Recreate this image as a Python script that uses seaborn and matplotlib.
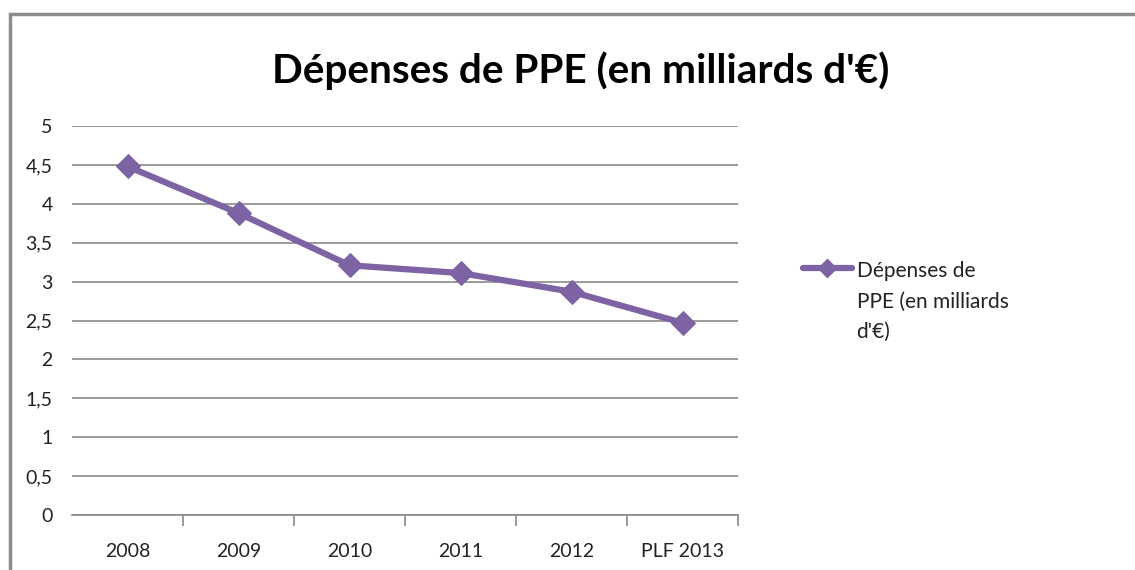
import matplotlib
matplotlib.use("Agg")
import matplotlib.pyplot as plt
import seaborn as sns
import pandas as pd
from matplotlib.ticker import FixedLocator, FuncFormatter
from matplotlib.lines import Line2D
from matplotlib.patches import Rectangle

categories = ["2008", "2009", "2010", "2011", "2012", "PLF 2013"]
values = [4.48, 3.88, 3.21, 3.11, 2.87, 2.47]
series_name = "Dépenses de PPE (en milliards d'€)"
legend_label = "Dépenses de\nPPE (en milliards\nd'€)"
yticks = [0, 0.5, 1, 1.5, 2, 2.5, 3, 3.5, 4, 4.5, 5]

df = pd.DataFrame({"year": pd.Categorical(categories, categories=categories, ordered=True),
                   "value": values})

sns.set_theme(style="white")
plt.rcParams['font.family'] = ['Lato', 'DejaVu Sans']

W, H = 1135, 570
fig = plt.figure(figsize=(W / 100, H / 100), dpi=100)
fig.patch.set_facecolor("white")
ax = fig.add_axes([72 / W, 1 - 515 / H, (738 - 72) / W, (515 - 126) / H])

color = "#7D62A4"
sns.lineplot(data=df, x="year", y="value", ax=ax, color=color, linewidth=4.5,
             marker="D", markersize=12.5, markeredgecolor=color, sort=False)

ax.set_xlim(-0.5, len(categories) - 0.5)
ax.set_ylim(0, 5)
ax.set_yticks(yticks)
ax.yaxis.set_major_formatter(FuncFormatter(lambda v, p: (f"{v:g}").replace(".", ",")))
ax.yaxis.grid(True, color="#8a8a8a", linewidth=1.2)
ax.xaxis.grid(False)
ax.set_xlabel("")
ax.set_ylabel("")
for s in ["top", "right", "left"]:
    ax.spines[s].set_visible(False)
ax.spines["bottom"].set_color("#8a8a8a")
ax.spines["bottom"].set_linewidth(1.2)

ax.set_xticks(range(len(categories)))
ax.set_xticklabels(categories)
ax.xaxis.set_minor_locator(FixedLocator([i + 0.5 for i in range(len(categories))]))
ax.tick_params(axis="x", which="major", length=0, pad=20, labelsize=14, colors="#222222")
ax.tick_params(axis="x", which="minor", length=8, width=1.2, color="#8a8a8a", bottom=True)
ax.tick_params(axis="y", length=0, pad=14, labelsize=14, colors="#222222")

if ax.legend_:
    ax.legend_.remove()
handle = Line2D([], [], color=color, linewidth=4.5, marker="D", markersize=9)
leg = fig.legend([handle], [legend_label], loc="upper left",
                 bbox_to_anchor=(803 / W, 1 - 261 / H), frameon=False,
                 fontsize=15, handlelength=2.35, handletextpad=0.22, labelspacing=0,
                 borderpad=0, borderaxespad=0)
for t in leg.get_texts():
    t.set_linespacing(1.65)
    t.set_color("#222222")
# align handle with the first line of the wrapped label
for col in leg._legend_handle_box.get_children():
    for item in col.get_children():
        item.align = "top"

fig.text(581 / W, 1 - 71 / H, series_name, ha="center", va="center",
         fontsize=29.2, fontweight="bold", color="black")

fig.add_artist(Rectangle((10 / W, -0.05), 1.2, 1 - 14 / H + 0.05, transform=fig.transFigure,
                         fill=False, edgecolor="#8c8c8c", linewidth=2.5))

fig.savefig("out.png", dpi=100, facecolor="white")
